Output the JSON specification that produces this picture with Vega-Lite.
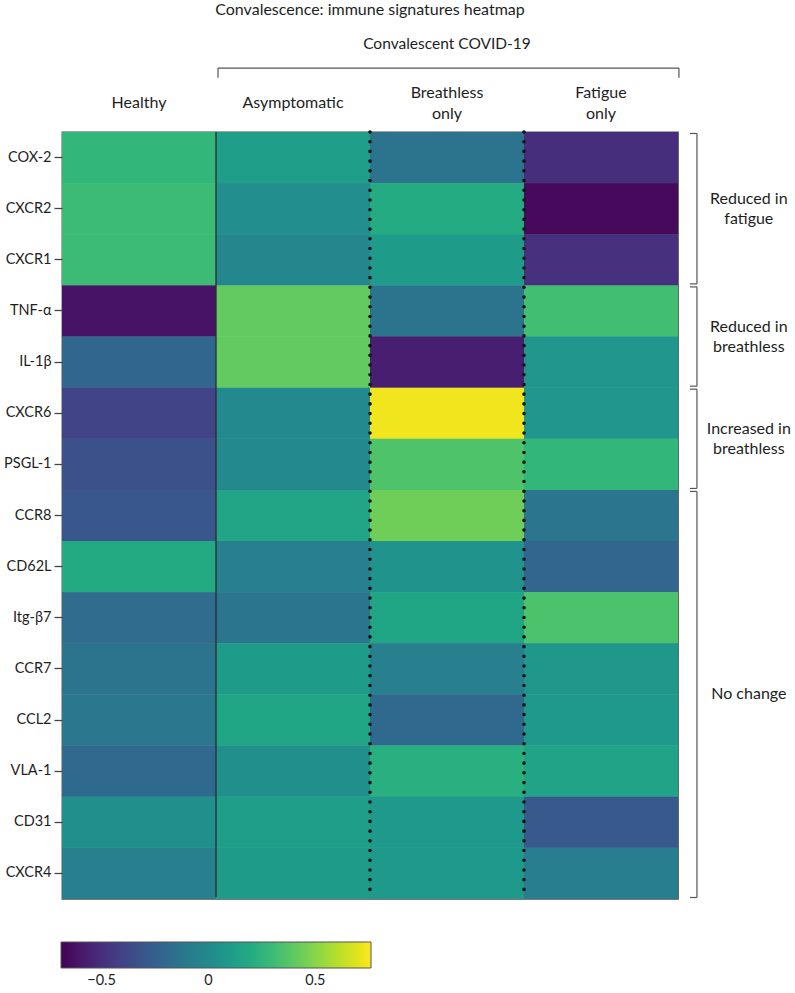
{
  "$schema": "https://vega.github.io/schema/vega-lite/v6.json",
  "width": 616,
  "height": 767,
  "autosize": {"type": "none"},
  "padding": {"left": 62, "top": 132, "right": 117, "bottom": 94},
  "background": "white",
  "config": {
    "font": "Lato",
    "view": {"stroke": "#4d4d4d", "strokeWidth": 1.3},
    "text": {"font": "Lato"}
  },
  "datasets": {
    "cells": [
      {"gene": "COX-2", "group": "Healthy", "value": 0.27},
      {"gene": "CXCR2", "group": "Healthy", "value": 0.30},
      {"gene": "CXCR1", "group": "Healthy", "value": 0.30},
      {"gene": "TNF-α", "group": "Healthy", "value": -0.62},
      {"gene": "IL-1β", "group": "Healthy", "value": -0.21},
      {"gene": "CXCR6", "group": "Healthy", "value": -0.40},
      {"gene": "PSGL-1", "group": "Healthy", "value": -0.34},
      {"gene": "CCR8", "group": "Healthy", "value": -0.30},
      {"gene": "CD62L", "group": "Healthy", "value": 0.19},
      {"gene": "Itg-β7", "group": "Healthy", "value": -0.18},
      {"gene": "CCR7", "group": "Healthy", "value": -0.14},
      {"gene": "CCL2", "group": "Healthy", "value": -0.11},
      {"gene": "VLA-1", "group": "Healthy", "value": -0.20},
      {"gene": "CD31", "group": "Healthy", "value": 0.03},
      {"gene": "CXCR4", "group": "Healthy", "value": -0.07},
      {"gene": "COX-2", "group": "Asymptomatic", "value": 0.12},
      {"gene": "CXCR2", "group": "Asymptomatic", "value": 0.02},
      {"gene": "CXCR1", "group": "Asymptomatic", "value": -0.02},
      {"gene": "TNF-α", "group": "Asymptomatic", "value": 0.41},
      {"gene": "IL-1β", "group": "Asymptomatic", "value": 0.41},
      {"gene": "CXCR6", "group": "Asymptomatic", "value": -0.01},
      {"gene": "PSGL-1", "group": "Asymptomatic", "value": -0.01},
      {"gene": "CCR8", "group": "Asymptomatic", "value": 0.16},
      {"gene": "CD62L", "group": "Asymptomatic", "value": -0.07},
      {"gene": "Itg-β7", "group": "Asymptomatic", "value": -0.12},
      {"gene": "CCR7", "group": "Asymptomatic", "value": 0.11},
      {"gene": "CCL2", "group": "Asymptomatic", "value": 0.17},
      {"gene": "VLA-1", "group": "Asymptomatic", "value": 0.03},
      {"gene": "CD31", "group": "Asymptomatic", "value": 0.12},
      {"gene": "CXCR4", "group": "Asymptomatic", "value": 0.11},
      {"gene": "COX-2", "group": "Breathless only", "value": -0.14},
      {"gene": "CXCR2", "group": "Breathless only", "value": 0.20},
      {"gene": "CXCR1", "group": "Breathless only", "value": 0.11},
      {"gene": "TNF-α", "group": "Breathless only", "value": -0.14},
      {"gene": "IL-1β", "group": "Breathless only", "value": -0.57},
      {"gene": "CXCR6", "group": "Breathless only", "value": 0.73},
      {"gene": "PSGL-1", "group": "Breathless only", "value": 0.36},
      {"gene": "CCR8", "group": "Breathless only", "value": 0.44},
      {"gene": "CD62L", "group": "Breathless only", "value": 0.05},
      {"gene": "Itg-β7", "group": "Breathless only", "value": 0.17},
      {"gene": "CCR7", "group": "Breathless only", "value": -0.07},
      {"gene": "CCL2", "group": "Breathless only", "value": -0.20},
      {"gene": "VLA-1", "group": "Breathless only", "value": 0.22},
      {"gene": "CD31", "group": "Breathless only", "value": 0.09},
      {"gene": "CXCR4", "group": "Breathless only", "value": 0.09},
      {"gene": "COX-2", "group": "Fatigue only", "value": -0.50},
      {"gene": "CXCR2", "group": "Fatigue only", "value": -0.66},
      {"gene": "CXCR1", "group": "Fatigue only", "value": -0.49},
      {"gene": "TNF-α", "group": "Fatigue only", "value": 0.32},
      {"gene": "IL-1β", "group": "Fatigue only", "value": 0.07},
      {"gene": "CXCR6", "group": "Fatigue only", "value": 0.07},
      {"gene": "PSGL-1", "group": "Fatigue only", "value": 0.27},
      {"gene": "CCR8", "group": "Fatigue only", "value": -0.13},
      {"gene": "CD62L", "group": "Fatigue only", "value": -0.22},
      {"gene": "Itg-β7", "group": "Fatigue only", "value": 0.35},
      {"gene": "CCR7", "group": "Fatigue only", "value": 0.08},
      {"gene": "CCL2", "group": "Fatigue only", "value": 0.09},
      {"gene": "VLA-1", "group": "Fatigue only", "value": 0.15},
      {"gene": "CD31", "group": "Fatigue only", "value": -0.29},
      {"gene": "CXCR4", "group": "Fatigue only", "value": -0.08}
    ],
    "headers": [
      {"group": "Healthy", "label": "Healthy"},
      {"group": "Asymptomatic", "label": "Asymptomatic"},
      {"group": "Breathless only", "label": "Breathless\nonly"},
      {"group": "Fatigue only", "label": "Fatigue\nonly"}
    ],
    "brackets": [
      {"label": "Reduced in\nfatigue", "from": 0, "to": 3},
      {"label": "Reduced in\nbreathless", "from": 3, "to": 5},
      {"label": "Increased in\nbreathless", "from": 5, "to": 7},
      {"label": "No change", "from": 7, "to": 15}
    ]
  },
  "layer": [
    {
      "layer": [
        {
          "data": {"name": "cells"},
          "mark": {"type": "rect"},
          "encoding": {
            "x": {
              "field": "group", "type": "nominal",
              "sort": ["Healthy", "Asymptomatic", "Breathless only", "Fatigue only"],
              "scale": {"paddingInner": 0, "paddingOuter": 0},
              "axis": null
            },
            "y": {
              "field": "gene", "type": "nominal",
              "sort": ["COX-2", "CXCR2", "CXCR1", "TNF-α", "IL-1β", "CXCR6", "PSGL-1", "CCR8", "CD62L", "Itg-β7", "CCR7", "CCL2", "VLA-1", "CD31", "CXCR4"],
              "scale": {"paddingInner": 0, "paddingOuter": 0},
              "axis": {"title": null, "domain": false, "tickSize": 8, "tickColor": "#444", "tickWidth": 1.3,
                       "labelFontSize": 14.5, "labelColor": "#1e1e1e", "labelPadding": 3}
            },
            "color": {
              "field": "value", "type": "quantitative",
              "scale": {"scheme": "viridis", "domain": [-0.69, 0.76]},
              "legend": {"type": "gradient", "orient": "none", "legendX": -1, "legendY": 810, "direction": "horizontal",
                         "gradientLength": 310, "gradientThickness": 26, "title": null,
                         "values": [-0.5, 0, 0.5], "format": ".1~f", "labelFontSize": 14.5, "labelColor": "#1e1e1e",
                         "labelOffset": 6, "labelOverlap": false,
                         "gradientStrokeColor": "#555", "gradientStrokeWidth": 1}
            }
          }
        },
        {
          "data": {"name": "cells"},
          "mark": {"type": "rect"},
          "encoding": {
            "x": {"field": "group", "type": "nominal", "sort": ["Healthy", "Asymptomatic", "Breathless only", "Fatigue only"]},
            "y": {"field": "gene", "type": "nominal",
                  "sort": ["COX-2", "CXCR2", "CXCR1", "TNF-α", "IL-1β", "CXCR6", "PSGL-1", "CCR8", "CD62L", "Itg-β7", "CCR7", "CCL2", "VLA-1", "CD31", "CXCR4"],
                  "scale": {"paddingInner": 0, "paddingOuter": 0}, "axis": null},
            "color": {"field": "value", "type": "quantitative"}
          }
        },
        {
          "data": {"name": "headers"},
          "transform": [{"filter": "indexof(datum.label, '\\n') < 0"}],
          "mark": {"type": "text", "fontSize": 16, "color": "#1e1e1e", "align": "center", "baseline": "middle"},
          "encoding": {
            "x": {"field": "group", "type": "nominal", "sort": ["Healthy", "Asymptomatic", "Breathless only", "Fatigue only"]},
            "y": {"datum": -0.567, "type": "quantitative", "scale": {"domain": [0, 15], "reverse": true, "nice": false, "zero": false}, "axis": null},
            "text": {"field": "label"}
          }
        },
        {
          "data": {"name": "headers"},
          "transform": [{"filter": "indexof(datum.label, '\\n') >= 0"}],
          "mark": {"type": "text", "fontSize": 16, "color": "#1e1e1e", "align": "center", "baseline": "middle", "lineBreak": "\n", "lineHeight": 21, "dy": -10.5},
          "encoding": {
            "x": {"field": "group", "type": "nominal", "sort": ["Healthy", "Asymptomatic", "Breathless only", "Fatigue only"]},
            "y": {"datum": -0.567, "type": "quantitative", "scale": {"domain": [0, 15], "reverse": true, "nice": false, "zero": false}, "axis": null},
            "text": {"field": "label"}
          }
        }
      ],
      "resolve": {"scale": {"y": "independent"}}
    },
    {
      "layer": [
        {
          "data": {"values": [{"label": "Convalescence: immune signatures heatmap"}]},
          "mark": {"type": "text", "fontSize": 16, "color": "#1e1e1e"},
          "encoding": {
            "x": {"datum": 2, "type": "quantitative", "scale": {"domain": [0, 4], "nice": false, "zero": false}, "axis": null},
            "y": {"datum": -2.39, "type": "quantitative", "scale": {"domain": [0, 15], "reverse": true, "nice": false, "zero": false}, "axis": null},
            "text": {"field": "label"}
          }
        },
        {
          "data": {"values": [{"label": "Convalescent COVID-19"}]},
          "mark": {"type": "text", "fontSize": 15.5, "color": "#1e1e1e"},
          "encoding": {
            "x": {"datum": 2.5, "type": "quantitative"},
            "y": {"datum": -1.72, "type": "quantitative"},
            "text": {"field": "label"}
          }
        },
        {
          "data": {"values": [{"span": "Convalescent COVID-19"}]},
          "mark": {"type": "rule", "color": "#555", "strokeWidth": 1.2},
          "encoding": {
            "x": {"datum": 1.013, "type": "quantitative"},
            "x2": {"datum": 4.006},
            "y": {"datum": -1.25, "type": "quantitative"}
          }
        },
        {
          "data": {"values": [{"span": "left hook"}]},
          "mark": {"type": "rule", "color": "#555", "strokeWidth": 1.2},
          "encoding": {
            "x": {"datum": 1.013, "type": "quantitative"},
            "y": {"datum": -1.25, "type": "quantitative"},
            "y2": {"datum": -1.06}
          }
        },
        {
          "data": {"values": [{"span": "right hook"}]},
          "mark": {"type": "rule", "color": "#555", "strokeWidth": 1.2},
          "encoding": {
            "x": {"datum": 4.006, "type": "quantitative"},
            "y": {"datum": -1.25, "type": "quantitative"},
            "y2": {"datum": -1.06}
          }
        },
        {
          "data": {"values": [{"line": "Healthy | Convalescent"}]},
          "mark": {"type": "rule", "color": "#2b2b2b", "strokeWidth": 1.3},
          "encoding": {
            "x": {"datum": 1, "type": "quantitative"},
            "y": {"datum": 0, "type": "quantitative"},
            "y2": {"datum": 14.96}
          }
        },
        {
          "data": {"values": [{"line": "Asymptomatic | Breathless"}]},
          "mark": {"type": "rule", "color": "#111", "strokeWidth": 3.6, "strokeCap": "round", "strokeDash": [0.01, 9.7]},
          "encoding": {
            "x": {"datum": 2, "type": "quantitative"},
            "y": {"datum": 0, "type": "quantitative"},
            "y2": {"datum": 15}
          }
        },
        {
          "data": {"values": [{"line": "Breathless | Fatigue"}]},
          "mark": {"type": "rule", "color": "#111", "strokeWidth": 3.6, "strokeCap": "round", "strokeDash": [0.01, 9.7]},
          "encoding": {
            "x": {"datum": 3, "type": "quantitative"},
            "y": {"datum": 0, "type": "quantitative"},
            "y2": {"datum": 15}
          }
        },
        {
          "data": {"name": "brackets"},
          "mark": {"type": "rule", "color": "#555", "strokeWidth": 1.2, "yOffset": 1.5, "y2Offset": -1.5},
          "encoding": {
            "x": {"datum": 4.123, "type": "quantitative"},
            "y": {"field": "from", "type": "quantitative"},
            "y2": {"field": "to"}
          }
        },
        {
          "data": {"name": "brackets"},
          "mark": {"type": "rule", "color": "#555", "strokeWidth": 1.2, "yOffset": 1.5},
          "encoding": {
            "x": {"datum": 4.078, "type": "quantitative"},
            "x2": {"datum": 4.123},
            "y": {"field": "from", "type": "quantitative"}
          }
        },
        {
          "data": {"name": "brackets"},
          "mark": {"type": "rule", "color": "#555", "strokeWidth": 1.2, "yOffset": -1.5},
          "encoding": {
            "x": {"datum": 4.078, "type": "quantitative"},
            "x2": {"datum": 4.123},
            "y": {"field": "to", "type": "quantitative"}
          }
        },
        {
          "data": {"name": "brackets"},
          "transform": [
            {"filter": "indexof(datum.label, '\\n') >= 0"},
            {"calculate": "(datum.from + datum.to) / 2", "as": "mid"}
          ],
          "mark": {"type": "text", "fontSize": 16, "color": "#1e1e1e", "lineBreak": "\n", "lineHeight": 20, "align": "center", "baseline": "middle", "dy": -10},
          "encoding": {
            "x": {"datum": 4.46, "type": "quantitative"},
            "y": {"field": "mid", "type": "quantitative"},
            "text": {"field": "label"}
          }
        },
        {
          "data": {"name": "brackets"},
          "transform": [
            {"filter": "indexof(datum.label, '\\n') < 0"},
            {"calculate": "(datum.from + datum.to) / 2", "as": "mid"}
          ],
          "mark": {"type": "text", "fontSize": 16, "color": "#1e1e1e", "align": "center", "baseline": "middle"},
          "encoding": {
            "x": {"datum": 4.46, "type": "quantitative"},
            "y": {"field": "mid", "type": "quantitative"},
            "text": {"field": "label"}
          }
        }
      ]
    }
  ],
  "resolve": {"scale": {"x": "independent", "y": "independent", "color": "independent"}}
}
